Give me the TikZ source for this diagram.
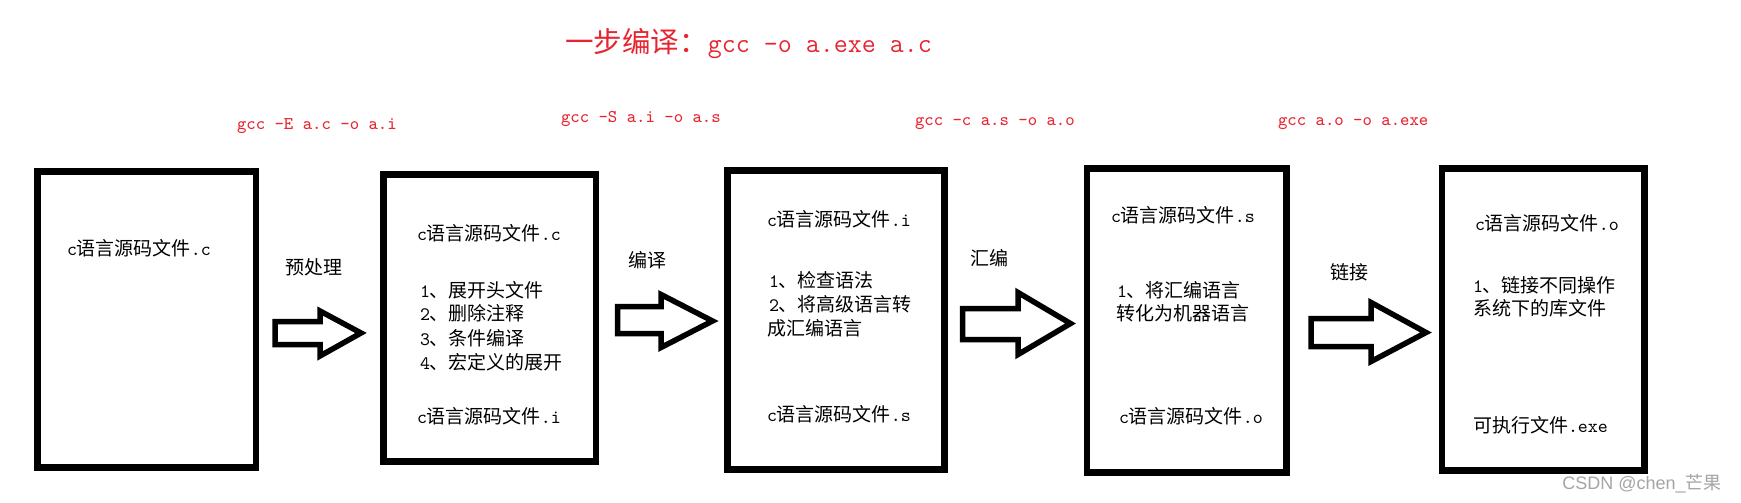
\documentclass[tikz,border=0pt]{standalone}
\usepackage{fontspec}
\usetikzlibrary{fit}
\newfontfamily\zhf{Noto Sans CJK SC}
\newfontfamily\wmf{Liberation Sans}
\definecolor{lblred}{RGB}{232,36,48}
\definecolor{wmgray}{RGB}{165,165,165}
\newcommand\cn[1]{{\zhf #1}}
\newcommand\la[1]{{\ttfamily #1}}
\newcommand\srcf[1]{\la{c}\cn{语言源码文件}\la{.#1}}
\tikzset{
  filebox/.style={draw=black, line width=3.25pt, inner sep=0pt, fill=white},
  txt/.style={anchor=base west, inner sep=0pt, outer sep=0pt, text=black, font=\fontsize{9.5pt}{12pt}\selectfont},
  cmd/.style={anchor=base west, inner sep=0pt, outer sep=0pt, text=lblred, font=\fontsize{8.95pt}{11pt}\selectfont\ttfamily},
  bigarrow/.style={draw=black, line width=2.75pt, line join=miter, miter limit=3, fill=white},
}
\begin{document}
\begin{tikzpicture}[x=0.5pt,y=-0.5pt]
\useasboundingbox[fill=white] (0,0) rectangle (1741,503);

% title
\node[anchor=base west, inner sep=0pt, text=lblred] (title) at (565,52)
  {\fontsize{14.25pt}{16pt}\selectfont\cn{一步编译：}{\fontsize{13.6pt}{16pt}\selectfont\ttfamily gcc -o a.exe a.c}};

% command labels
\node[cmd] (c1) at (237,129) {gcc -E a.c -o a.i};
\node[cmd] (c2) at (561,122) {gcc -S a.i -o a.s};
\node[cmd] (c3) at (915,125) {gcc -c a.s -o a.o};
\node[cmd] (c4) at (1278,125) {gcc a.o -o a.exe};

% boxes
\node[filebox, fit={(37.5,171.5) (256,467.5)}] (b1) {};
\node[filebox, fit={(383.5,174.5) (596,461.5)}] (b2) {};
\node[filebox, fit={(727.5,170.5) (944.5,469.5)}] (b3) {};
\node[filebox, fit={(1087,168.5) (1286.5,472.5)}] (b4) {};
\node[filebox, fit={(1442,168.5) (1644.5,470.5)}] (b5) {};

% box 1
\node[txt] (b1a) at (67,255) {\srcf{c}};
% box 2
\node[txt] (b2a) at (417,240) {\srcf{c}};
\node[txt] (b2b) at (420,297) {\la{1}\cn{、展开头文件}};
\node[txt] (b2c) at (420,320) {\la{2}\cn{、删除注释}};
\node[txt] (b2d) at (420,345) {\la{3}\cn{、条件编译}};
\node[txt] (b2e) at (420,369) {\la{4}\cn{、宏定义的展开}};
\node[txt] (b2f) at (417,423) {\srcf{i}};
% box 3
\node[txt] (b3a) at (767,226) {\srcf{i}};
\node[txt] (b3b) at (769,287) {\la{1}\cn{、检查语法}};
\node[txt] (b3c) at (769,311) {\la{2}\cn{、将高级语言转}};
\node[txt] (b3d) at (767,335) {\cn{成汇编语言}};
\node[txt] (b3e) at (767,421) {\srcf{s}};
% box 4
\node[txt] (b4a) at (1111,222) {\srcf{s}};
\node[txt] (b4b) at (1117,297) {\la{1}\cn{、将汇编语言}};
\node[txt] (b4c) at (1116,320) {\cn{转化为机器语言}};
\node[txt] (b4d) at (1119,423) {\srcf{o}};
% box 5
\node[txt] (b5a) at (1475,230) {\srcf{o}};
\node[txt] (b5b) at (1473,292) {\la{1}\cn{、链接不同操作}};
\node[txt] (b5c) at (1473,315) {\cn{系统下的库文件}};
\node[txt] (b5d) at (1473,432) {\cn{可执行文件}\la{.exe}};

% step labels
\node[txt] (s1) at (285,274) {\cn{预处理}};
\node[txt] (s2) at (628,267) {\cn{编译}};
\node[txt] (s3) at (970,265) {\cn{汇编}};
\node[txt] (s4) at (1330,279) {\cn{链接}};

% block arrows
\draw[bigarrow] (275,321.5) -- (320,321.5) -- (320,311) -- (361,333) -- (320,356) -- (320,344.5) -- (275,344.5) -- cycle;
\draw[bigarrow] (617.5,306.5) -- (661,306.5) -- (661,294.5) -- (712.5,321) -- (661,347.5) -- (661,333.5) -- (617.5,333.5) -- cycle;
\draw[bigarrow] (962.5,308.5) -- (1018,308.5) -- (1018,292.5) -- (1070.5,323.5) -- (1018,354.5) -- (1018,339.5) -- (962.5,339.5) -- cycle;
\draw[bigarrow] (1311,318.5) -- (1371,318.5) -- (1371,302.5) -- (1426,332.5) -- (1371,361.5) -- (1371,346.5) -- (1311,346.5) -- cycle;

% watermark
\node[anchor=base west, inner sep=0pt, text=wmgray] (wm) at (1562,489.5)
  {\fontsize{9pt}{11pt}\selectfont\wmf CSDN @chen\_\cn{芒果}};
\end{tikzpicture}
\end{document}
